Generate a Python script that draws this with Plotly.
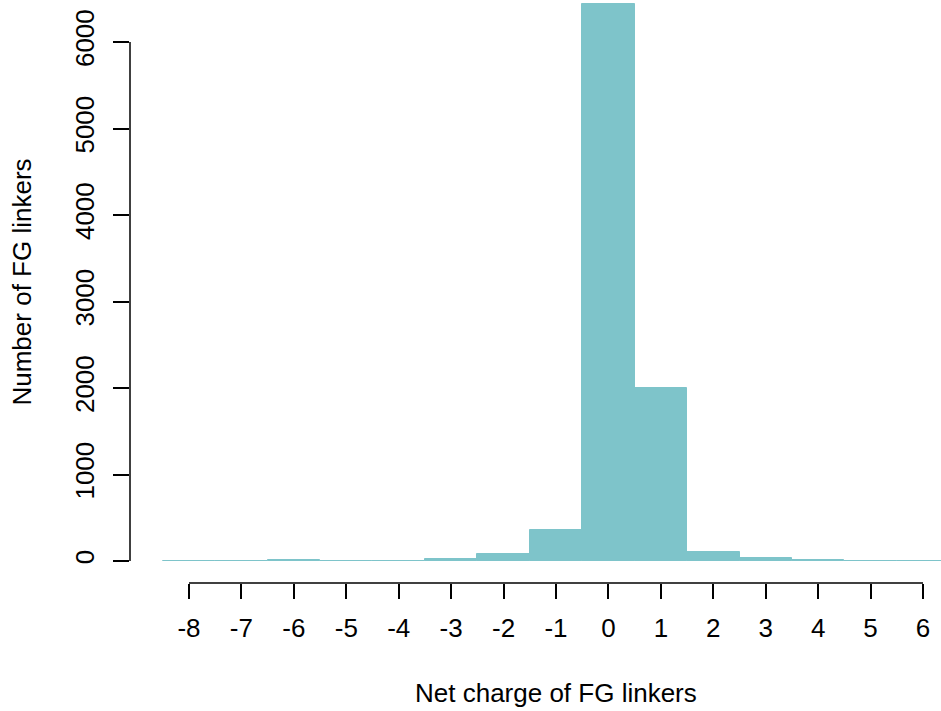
import plotly.graph_objects as go

charges = [-8, -7, -6, -5, -4, -3, -2, -1, 0, 1, 2, 3, 4, 5, 6]
counts = [3, 3, 12, 3, 4, 22, 85, 358, 6440, 2000, 110, 30, 12, 4, 3]
x_ticks = list(range(-8, 7))
y_ticks = [0, 1000, 2000, 3000, 4000, 5000, 6000]
x_title = "Net charge of FG linkers"
y_title = "Number of FG linkers"

bar_color = "#7EC4CA"
font_family = "Liberation Sans, Arial, Helvetica, sans-serif"
fs = 26

fig = go.Figure()
fig.add_trace(go.Bar(
    x=charges, y=counts, width=1,
    marker=dict(color=bar_color, line=dict(color=bar_color, width=1)),
    hoverinfo="x+y",
))

fig.update_layout(
    width=941, height=711,
    margin=dict(l=130, r=0, t=0, b=128),
    paper_bgcolor="white", plot_bgcolor="white",
    showlegend=False,
    bargap=0,
    font=dict(family=font_family, size=fs, color="black"),
    xaxis=dict(
        range=[-9.125, 6.343],
        tickmode="array", tickvals=x_ticks, ticktext=[str(v) for v in x_ticks],
        ticks="outside", ticklen=15, tickwidth=1.5, tickcolor="black",
        showline=False, showgrid=False, zeroline=False,
        tickfont=dict(size=fs),
        ticklabelstandoff=7,
    ),
    yaxis=dict(
        range=[-254, 6486],
        tickmode="array", tickvals=y_ticks, ticktext=[str(v) for v in y_ticks],
        ticks="outside", ticklen=16, tickwidth=1.5, tickcolor="black",
        showline=False, showgrid=False, zeroline=False,
        tickangle=-90,
        tickfont=dict(size=fs),
        ticklabelstandoff=9,
    ),
)

# axis titles, centred on the full (partly cropped) R plot region
fig.add_annotation(text=x_title, xref="paper", yref="paper",
                   x=0.5247, y=0, xanchor="center", yanchor="middle",
                   yshift=-110, showarrow=False, font=dict(size=fs))
fig.add_annotation(text=y_title, xref="paper", yref="paper",
                   x=0, y=0.5154, xanchor="center", yanchor="middle",
                   xshift=-108, textangle=-90, showarrow=False,
                   font=dict(size=fs))

# R-style axis lines spanning only the tick range
fig.add_shape(type="line", xref="x", yref="paper",
              x0=min(x_ticks), x1=max(x_ticks), y0=0, y1=0,
              line=dict(color="black", width=1.5))
fig.add_shape(type="line", xref="paper", yref="y",
              x0=0, x1=0, y0=min(y_ticks), y1=max(y_ticks),
              line=dict(color="black", width=1.5))

fig.write_html("out.html")
